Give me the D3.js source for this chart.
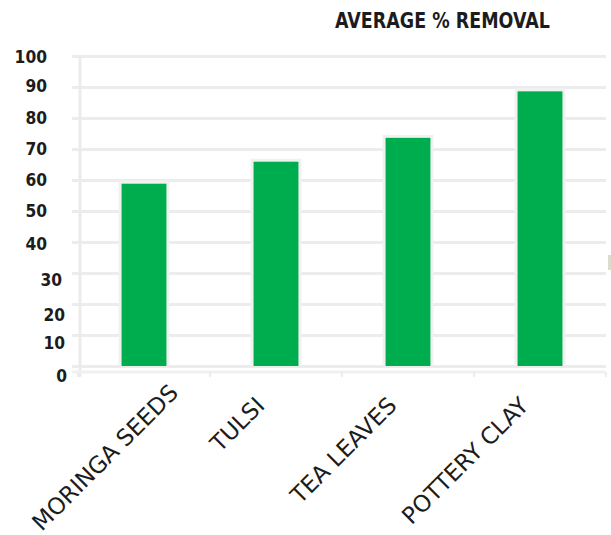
<!DOCTYPE html>
<html>
<head>
<meta charset="utf-8">
<script src="https://cdn.jsdelivr.net/npm/d3@7"></script>
<style>
  html, body { margin: 0; padding: 0; background: #ffffff; }
  svg { display: block; }
</style>
</head>
<body>
<svg id="chart" width="611" height="535"></svg>
<script>
// ---- data ----
const categories = ["MORINGA SEEDS", "TULSI", "TEA LEAVES", "POTTERY CLAY"];
const removal = [58.8, 65.9, 73.6, 88.6];
const yTicks = [0, 10, 20, 30, 40, 50, 60, 70, 80, 90, 100];
const title = "AVERAGE % REMOVAL";

// ---- layout ----
const svg = d3.select("#chart");
const x = d3.scaleBand().domain(categories).range([78, 606]).paddingInner(0.66).paddingOuter(0.33);
const y = d3.scaleLinear().domain([0, 100]).range([366, 56]);

const gridColor = "#ececec";
const textColor = "#1c1c1c";

// horizontal gridlines via axis
const gridAxis = d3.axisLeft(y).tickValues(yTicks).tickSize(-(606 - 72)).tickFormat("");
const gGrid = svg.append("g").attr("transform", "translate(72,0)").call(gridAxis);
gGrid.select(".domain").remove();
gGrid.selectAll(".tick line").attr("stroke", gridColor).attr("stroke-width", 3);

// left vertical line
svg.append("line").attr("x1", 80).attr("x2", 80).attr("y1", y(100)).attr("y2", 377)
  .attr("stroke", gridColor).attr("stroke-width", 3);

// bottom axis line with category-boundary ticks
const boundaries = categories.map(c => x(c) - x.step() * x.paddingInner() / 2);
boundaries.push(606);
boundaries[0] = 78;
svg.append("line").attr("x1", 72).attr("x2", 606).attr("y1", 372).attr("y2", 372)
  .attr("stroke", "#f0f0f0").attr("stroke-width", 3);
svg.selectAll(".btick").data(boundaries).join("line")
  .attr("x1", d => d).attr("x2", d => d).attr("y1", 372).attr("y2", 377)
  .attr("stroke", gridColor).attr("stroke-width", 2);

// bars with soft halo
const bars = svg.append("g");
bars.selectAll(".halo").data(removal).join("rect")
  .attr("x", (d, i) => x(categories[i]) - 3)
  .attr("y", d => y(d) - 3)
  .attr("width", x.bandwidth() + 6)
  .attr("height", d => y(0) - y(d) + 3)
  .attr("fill", "#f1f1f1");
bars.selectAll(".bar").data(removal).join("rect")
  .attr("x", (d, i) => x(categories[i]))
  .attr("y", d => y(d))
  .attr("width", x.bandwidth())
  .attr("height", d => y(0) - y(d))
  .attr("fill", "#00AD4E");

// y tick labels (lower labels sit slightly lower/right in the reference)
function nudge(v) {
  if (v === 0) return [20, 10];
  if (v === 10) return [18, 8];
  if (v === 20) return [18, 11];
  if (v === 30) return [15, 7];
  if (v === 40) return [0, 2];
  if (v === 100) return [0, 1];
  if (v === 90) return [0, -1];
  return [0, 0];
}
svg.append("g").selectAll("text").data(yTicks).join("text")
  .attr("x", d => 47 + nudge(d)[0])
  .attr("y", d => y(d) + nudge(d)[1])
  .attr("dy", "0.36em")
  .attr("text-anchor", "end")
  .attr("font-family", "DejaVu Sans, sans-serif")
  .attr("font-weight", "bold")
  .attr("font-size", 18)
  .attr("textLength", d => String(d).length * 10.8)
  .attr("lengthAdjust", "spacingAndGlyphs")
  .attr("fill", textColor)
  .text(d => d);

// title
svg.append("text")
  .attr("x", 335).attr("y", 28)
  .attr("font-family", "DejaVu Sans, sans-serif")
  .attr("font-weight", "bold")
  .attr("font-size", 21)
  .attr("textLength", 215)
  .attr("lengthAdjust", "spacingAndGlyphs")
  .attr("fill", textColor)
  .text(title);

// x category labels rotated -45
const fs = 23;
const cap = fs * 0.73 * Math.SQRT1_2;
const labels = svg.append("g").selectAll("text").data(categories).join("text")
  .attr("text-anchor", "end")
  .attr("font-family", "DejaVu Sans, sans-serif")
  .attr("font-size", fs)
  .attr("fill", textColor)
  .text(d => d);
labels.each(function(d) {
  const L = this.getComputedTextLength();
  let ex = x(d) + x.bandwidth() / 2 - 10;
  let ey = 407;
  const left = ex - L * Math.SQRT1_2 - cap;
  if (left < 30) ex += 30 - left;
  const bottom = ey + L * Math.SQRT1_2;
  if (bottom > 532) ey -= bottom - 532;
  d3.select(this).attr("transform", `translate(${ex},${ey}) rotate(-45)`);
});

// small cropped mark at right edge
svg.append("rect").attr("x", 608).attr("y", 255).attr("width", 3).attr("height", 15).attr("fill", "#dcdccc");
</script>
</body>
</html>
